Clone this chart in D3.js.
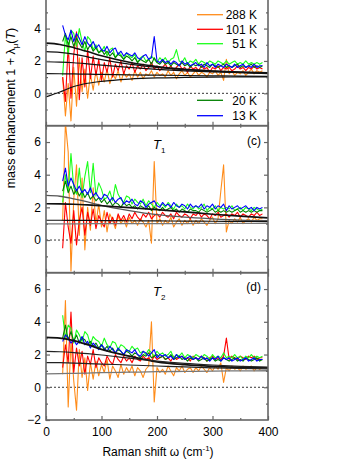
<!DOCTYPE html>
<html lang="en">
<head>
<meta charset="UTF-8">
<title>mass enhancement</title>
<style>
body{margin:0;background:#fff;}
svg text{font-family:"Liberation Sans",Arial,sans-serif;}
</style>
</head>
<body>
<div class="chart"></div>
<script src="https://d3js.org/d3.v7.min.js"></script>
<script>
// Raman shift grid of the spectra (cm-1)
var omega = [30,35,40,45,50,55,60,65,70,75,80,85,90,95,100,105,110,115,120,125,130,135,140,145,
  150,155,160,165,170,175,180,185,190,195,200,205,210,215,220,225,230,235,240,245,250,255,260,265,
  270,275,280,285,290,295,300,305,310,315,320,325,330,335,340,345,350,355,360,365,370,375,380,385,390];

var temps = ['288 K','101 K','51 K','20 K','13 K'];
var colors = ['#ff8c1a','#ff0000','#1aff1a','#008000','#0000ff'];

// top panel
var b288 = [1.0,-1.4,0.6,-1.7,1.6,-0.8,2.2,0.1,1.5,-0.3,1.2,0.2, 1.4,0.5,1.3,0.7,1.5,0.6,1.2,0.9,1.4,0.7,1.3,1.0,
  1.2,0.8,1.4,1.0,1.3,0.9,1.2,1.1,1.4,1.0,1.3,1.1, 1.2,1.0,1.4,1.1,1.3,0.9,1.2,1.4,1.1,1.3,1.0,1.2,
  1.4,1.1,1.3,1.2,1.0,1.3,1.2,1.4,1.1,1.3,0.8,2.1, 1.2,1.4,1.1,1.3,1.2,1.4,1.1,1.3,1.5,1.2,1.4,1.3, 1.4];
var b101 = [1.0,-0.5,3.0,-0.3,2.4,3.8,-0.4,2.2,0.4,2.7,0.9,2.3, 1.1,2.1,0.8,1.9,1.3,2.2,1.0,1.8,1.4,2.0,1.2,1.7,
  1.5,1.9,1.3,1.7,1.5,1.8,1.4,1.6,1.9,1.5,1.7,1.4, 1.6,1.8,1.5,1.7,1.4,1.6,1.8,1.5,1.6,1.3,1.7,1.5,
  1.6,1.4,1.7,1.5,1.6,1.3,1.6,1.5,1.7,1.4,1.6,1.5, 1.6,1.4,1.5,1.7,1.5,1.6,1.4,1.6,1.5,1.7,1.5,1.6, 1.5];
var b51 = [1.1,3.6,2.4,3.9,3.7,2.9,4.0,3.2,2.6,3.5,3.3,2.7, 3.0,2.5,2.6,2.9,2.3,2.7,2.8,2.2,2.5,2.4,2.1,2.5,
  2.3,2.2,2.4,1.9,2.2,2.3,2.0,2.1,2.3,2.1,1.9,2.2, 2.0,2.2,1.9,2.1,2.2,2.7,2.0,1.9,2.2,1.8,2.0,1.9,
  2.1,1.8,2.0,1.9,1.8,2.0,1.9,1.8,2.0,1.9,1.8,2.0, 1.8,1.9,2.0,1.8,1.9,1.8,2.0,1.8,1.9,1.8,1.9,1.8, 1.9];
var b20 = [3.2,3.7,3.0,3.5,2.9,3.4,3.1,2.8,3.2,2.7,3.0,2.6, 2.8,2.5,2.7,2.4,2.6,2.3,2.5,2.2,2.4,2.3,2.1,2.3,
  2.2,2.0,2.2,1.9,2.1,2.0,1.9,2.1,1.8,2.2,1.9,1.8, 2.0,1.8,1.9,1.7,1.9,1.8,1.7,1.9,1.7,1.8,1.6,1.8,
  1.7,1.8,1.6,1.8,1.7,1.6,1.8,1.7,1.6,1.7,1.8,1.6, 1.7,1.6,1.7,1.8,1.6,1.7,1.6,1.7,1.8,1.6,1.7,1.6, 1.7];
var b13 = [4.2,3.6,3.3,3.9,3.2,3.7,3.4,3.0,3.5,3.1,2.9,3.2, 2.8,3.0,2.7,2.6,2.9,2.5,2.7,2.8,2.4,2.6,2.3,2.5,
  2.4,2.3,2.5,2.2,2.1,2.3,2.4,2.1,2.2,3.5,2.0,1.9, 2.1,1.9,2.0,1.8,2.0,1.9,1.7,2.0,1.8,1.9,1.7,1.8,
  1.9,1.7,1.8,1.6,1.9,1.7,1.8,1.6,1.8,1.7,1.6,1.8, 1.7,1.6,1.8,1.6,1.7,1.8,1.6,1.7,1.6,1.8,1.6,1.7, 1.7];

// panel (c), T1
var c288 = [1.2,7.2,5.4,-1.9,2.5,4.6,0.3,3.8,-0.6,2.0,0.6,3.2, 1.0,2.2,0.8,1.8,0.5,1.6,1.2,0.7,1.5,1.0,1.3,0.8,
  1.4,1.0,1.2,0.9,1.3,1.1,0.8,1.2,-0.2,4.8,1.0,1.3, 0.9,1.2,1.0,1.4,0.8,1.1,1.3,0.9,1.2,1.0,1.3,0.9,
  1.2,1.0,1.3,1.1,0.9,1.2,1.4,1.0,1.3,3.0,4.6,0.5, 1.2,1.0,1.3,1.1,1.4,1.0,1.2,1.3,1.1,1.4,1.2,1.3, 1.3];
var c101 = [-0.5,2.3,0.8,-0.2,1.8,-0.3,1.2,2.0,0.3,1.7,0.9,1.9, 0.7,1.5,1.1,0.8,1.7,1.0,1.4,0.9,1.6,1.2,1.5,1.1,
  1.6,1.3,1.7,1.4,1.2,1.6,1.4,1.7,1.3,1.5,1.6,1.4, 1.7,1.5,1.4,1.6,1.3,1.7,1.5,1.4,1.6,1.5,1.3,1.6,
  1.5,1.7,1.4,1.6,1.5,1.3,1.6,1.5,1.7,1.4,1.5,1.6, 1.4,1.6,1.5,1.7,1.4,1.6,1.5,1.4,1.6,1.5,1.7,1.5, 1.6];
var c51 = [2.3,4.0,3.0,5.3,3.2,2.8,4.4,2.6,3.9,4.8,2.9,4.7, 2.7,3.5,3.1,2.5,2.6,3.0,2.4,3.4,2.8,2.5,2.3,2.7,
  2.6,2.2,2.5,2.3,2.2,2.5,2.1,2.4,2.2,2.0,2.3,2.1, 2.2,2.0,2.3,2.1,1.9,2.2,2.0,2.1,1.9,2.2,2.0,1.9,
  2.1,1.9,2.0,2.2,1.8,2.0,1.9,2.1,1.8,2.0,1.9,2.0, 1.9,2.1,1.8,1.9,2.0,1.8,2.0,1.9,1.8,2.0,1.9,1.8, 1.9];
var c20 = [3.0,3.6,2.9,3.3,2.8,3.1,2.7,3.0,2.6,2.9,2.5,2.7, 2.4,2.6,2.3,2.5,2.2,2.4,2.1,2.3,2.2,2.0,2.3,2.1,
  2.2,2.0,2.1,1.9,2.1,2.0,1.9,2.1,1.8,2.0,1.9,1.8, 2.0,1.8,1.9,2.0,1.8,1.9,1.7,1.9,1.8,1.7,1.9,1.8,
  1.8,1.7,1.9,1.8,1.7,1.8,1.9,1.7,1.8,1.7,1.8,1.7, 1.8,1.7,1.8,1.9,1.7,1.8,1.7,1.8,1.7,1.8,1.7,1.8, 1.8];
var c13 = [3.6,4.4,3.3,3.8,3.4,3.0,3.3,2.9,3.1,2.8,3.2,2.7, 2.9,2.6,2.5,2.8,2.7,2.4,2.6,2.3,2.5,2.6,2.2,2.4,
  2.3,2.5,2.2,2.1,2.4,2.3,2.0,2.2,2.3,2.4,2.1,2.0, 2.3,2.1,2.2,2.0,2.3,2.1,2.0,2.2,2.1,1.9,2.2,2.0,
  2.1,2.0,2.2,1.9,2.1,2.0,2.2,1.9,2.1,2.0,2.2,1.8, 2.1,1.9,2.0,2.1,1.9,2.0,2.1,1.9,2.0,1.8,2.0,1.9, 2.0];

// panel (d), T2
var d288 = [0.8,5.3,-1.2,2.8,0.4,-1.4,2.3,0.6,1.8,-0.2,1.5,0.5, 1.6,0.7,1.4,0.9,1.7,0.5,1.3,1.0,0.6,1.4,0.8,1.2,
  0.9,1.3,0.7,1.2,1.0,0.6,1.1,1.3,4.0,-0.9,1.2,0.9, 1.1,0.8,1.3,1.0,0.7,1.2,1.0,1.3,0.9,1.1,1.2,0.9,
  1.2,1.0,1.3,1.1,0.9,1.2,1.0,1.3,1.1,1.5,0.3,1.2, 1.0,1.3,1.1,1.2,1.0,1.3,1.1,1.2,1.3,1.0,1.2,1.1, 1.2];
var d101 = [1.2,2.6,1.5,4.6,0.9,2.4,1.3,2.2,0.8,1.9,1.4,2.3, 1.2,1.8,1.5,1.3,1.9,1.6,1.4,2.0,1.7,1.5,1.9,1.6,
  1.8,1.5,1.9,1.7,1.6,1.9,1.7,1.8,1.6,1.9,1.7,1.8, 1.9,1.7,1.8,1.6,1.9,1.7,1.8,1.9,1.7,1.8,1.6,1.9,
  1.8,1.7,1.9,1.8,1.6,1.8,1.9,1.7,1.8,1.7,1.9,3.0, 1.7,1.9,1.8,1.7,1.9,1.8,1.7,1.9,1.8,1.9,1.7,1.8, 1.8];
var d51 = [4.4,3.0,3.8,3.6,2.7,3.5,3.2,2.8,3.4,3.2,2.6,3.1, 2.9,2.8,2.5,3.0,2.6,2.4,2.8,2.7,2.3,2.6,2.5,2.3,
  2.2,2.5,2.3,2.4,2.1,2.2,2.0,2.3,2.1,1.9,2.2,2.0, 2.1,1.9,2.0,2.2,1.8,2.0,1.9,2.1,1.8,2.0,1.9,1.8,
  2.0,1.9,1.8,2.0,1.9,1.7,2.0,1.8,1.9,1.8,2.1,1.8, 1.9,1.8,2.0,1.8,1.9,1.7,1.9,1.8,2.0,1.8,1.9,1.8, 1.9];
var d20 = [3.0,3.8,2.9,3.4,2.8,3.2,2.7,3.0,2.9,2.6,2.8,2.5, 2.7,2.4,2.6,2.3,2.5,2.2,2.4,2.1,2.3,2.2,2.0,2.2,
  2.1,1.9,2.1,2.0,1.8,2.0,1.9,2.1,1.8,1.9,2.0,1.8, 1.9,1.7,1.8,2.0,1.7,1.8,1.9,1.7,1.8,1.6,1.8,1.7,
  1.8,1.6,1.7,1.8,1.6,1.7,1.8,1.6,1.7,1.6,1.8,1.7, 1.6,1.7,1.8,1.6,1.7,1.6,1.8,1.7,1.6,1.7,1.8,1.6, 1.7];
var d13 = [2.8,3.2,3.0,2.7,2.9,2.6,2.8,3.1,2.6,2.8,2.4,2.7, 2.5,2.3,2.6,2.4,2.2,2.5,2.3,2.1,2.4,2.2,2.0,2.3,
  2.2,2.1,2.3,2.0,1.9,2.2,2.1,1.9,2.1,2.3,1.8,2.0, 1.9,2.0,1.8,1.9,1.7,2.0,1.8,1.9,1.7,1.8,1.9,1.7,
  1.8,1.7,1.9,1.7,1.8,1.6,1.8,1.7,1.9,1.6,1.8,1.7, 1.8,1.6,1.7,1.8,1.6,1.7,1.8,1.6,1.7,1.8,1.6,1.7, 1.7];

// model curves
var fitOmega = [0,25,50,75,100,150,200,250,300,350,400];
var fitB1 = [3.10,3.02,2.82,2.58,2.32,1.92,1.65,1.48,1.38,1.31,1.26];
var fitB2 = [2.57,2.53,2.42,2.25,2.08,1.80,1.60,1.46,1.37,1.30,1.25];
var fitB3 = [1.95,1.93,1.89,1.82,1.74,1.60,1.48,1.39,1.32,1.27,1.22];
var fitB4 = [1.22,1.21,1.20,1.18,1.17,1.14,1.12,1.10,1.08,1.06,1.05];
var fitB5 = [-0.22,0.08,0.42,0.62,0.74,0.88,0.95,0.98,1.00,1.01,1.02];
var fitC1 = [2.73,2.68,2.52,2.33,2.12,1.80,1.55,1.40,1.30,1.22,1.18];
var fitC2 = [2.22,2.21,2.19,2.15,2.10,1.99,1.86,1.72,1.58,1.46,1.36];
var fitC3 = [1.21,1.21,1.20,1.20,1.19,1.18,1.17,1.16,1.15,1.14,1.13];
var fitC4 = [0.99,0.99,0.99,1.00,1.00,1.00,1.01,1.01,1.02,1.02,1.02];
var fitD1 = [3.05,3.00,2.85,2.60,2.32,1.90,1.55,1.38,1.28,1.22,1.18];
var fitD2 = [2.19,2.17,2.12,2.05,1.97,1.78,1.60,1.46,1.36,1.28,1.23];
var fitD3 = [1.51,1.50,1.48,1.45,1.42,1.36,1.30,1.24,1.19,1.15,1.12];
var fitD4 = [0.82,0.83,0.85,0.87,0.89,0.92,0.95,0.97,0.99,1.00,1.01];

var yMajor = [0,2,4,6];
var yMinor = [-1,1,3,5];
var xMajor = [0,100,200,300,400];
var xMinor = [50,150,250,350];

var W = 357, H = 462;
var svg = d3.select('.chart').append('svg')
  .attr('width', W).attr('height', H);

var x = d3.scaleLinear().domain([0,400]).range([46,268]);

var panels = [
  {name:'b', top:-20, bottom:125.7, series:[b288,b101,b51,b20,b13],
   fits:[fitB1,fitB2,fitB3,fitB4,fitB5], fitColor:['#111','#111','#111','#111','#111'], fitWidth:[1.6,1.2,1.2,1.2,1.2]},
  {name:'c', top:125.7, bottom:272.7, series:[c288,c101,c51,c20,c13],
   fits:[fitC1,fitC2,fitC3,fitC4], fitColor:['#555','#111','#111','#777'], fitWidth:[1.3,1.7,1.2,1.3]},
  {name:'d', top:272.7, bottom:420, series:[d288,d101,d51,d20,d13],
   fits:[fitD1,fitD2,fitD3,fitD4], fitColor:['#111','#222','#222','#777'], fitWidth:[1.8,1.2,1.2,1.3]}
];

var axisColor = '#666';

function styleAxis(g){
  g.select('.domain').remove();
  g.selectAll('.tick line').attr('stroke', axisColor).attr('stroke-width', 1.2);
  g.selectAll('.tick text').attr('fill','#000').style('font-size','12px')
    .style('font-family','"Liberation Sans", Arial, sans-serif');
}

panels.forEach(function(p, pi){
  var y = d3.scaleLinear().domain([-2,7]).range([p.bottom, p.top]);
  var g = svg.append('g');

  g.append('clipPath').attr('id','clip'+p.name)
    .append('rect').attr('x',x(0)).attr('y',p.top).attr('width',x(400)-x(0)).attr('height',p.bottom-p.top);

  var plot = g.append('g').attr('clip-path','url(#clip'+p.name+')');

  // zero line
  plot.append('line')
    .attr('x1',x(0)).attr('x2',x(400)).attr('y1',y(0)).attr('y2',y(0))
    .attr('stroke','#000').attr('stroke-width',0.8).attr('stroke-dasharray','2,2');

  var line = d3.line()
    .x(function(d,i){ return x(omega[i]); })
    .y(function(d){ return y(d); });

  p.series.forEach(function(s, si){
    plot.append('path').datum(s)
      .attr('d', line)
      .attr('fill','none')
      .attr('stroke', colors[si])
      .attr('stroke-width', 1.1)
      .attr('stroke-linejoin','round');
  });

  var fitLine = d3.line()
    .x(function(d,i){ return x(fitOmega[i]); })
    .y(function(d){ return y(d); })
    .curve(d3.curveMonotoneX);

  p.fits.forEach(function(f, fi){
    plot.append('path').datum(f)
      .attr('d', fitLine)
      .attr('fill','none')
      .attr('stroke', p.fitColor[fi])
      .attr('stroke-width', p.fitWidth[fi]);
  });

  // axes with inward ticks
  var yLeft = g.append('g').attr('transform','translate('+x(0)+',0)')
    .call(d3.axisLeft(y).tickValues(pi===2 ? [-2].concat(yMajor) : yMajor).tickSize(-4).tickPadding(5));
  styleAxis(yLeft);
  if (pi===0) yLeft.selectAll('.tick').filter(function(d){ return d===6; }).select('text').remove();
  var yLeftMinor = g.append('g').attr('transform','translate('+x(0)+',0)')
    .call(d3.axisLeft(y).tickValues(yMinor).tickSize(-2).tickFormat(''));
  styleAxis(yLeftMinor);
  var yRight = g.append('g').attr('transform','translate('+x(400)+',0)')
    .call(d3.axisRight(y).tickValues(yMajor).tickSize(-4).tickFormat(''));
  styleAxis(yRight);
  var yRightMinor = g.append('g').attr('transform','translate('+x(400)+',0)')
    .call(d3.axisRight(y).tickValues(yMinor).tickSize(-2).tickFormat(''));
  styleAxis(yRightMinor);

  var xb = g.append('g').attr('transform','translate(0,'+p.bottom+')')
    .call(d3.axisBottom(x).tickValues(xMajor).tickSize(-4).tickPadding(7)
      .tickFormat(pi===2 ? d3.format('d') : ''));
  styleAxis(xb);
  var xbm = g.append('g').attr('transform','translate(0,'+p.bottom+')')
    .call(d3.axisBottom(x).tickValues(xMinor).tickSize(-2).tickFormat(''));
  styleAxis(xbm);
  var xt = g.append('g').attr('transform','translate(0,'+p.top+')')
    .call(d3.axisTop(x).tickValues(xMajor).tickSize(-4).tickFormat(''));
  styleAxis(xt);
  var xtm = g.append('g').attr('transform','translate(0,'+p.top+')')
    .call(d3.axisTop(x).tickValues(xMinor).tickSize(-2).tickFormat(''));
  styleAxis(xtm);

  // frame
  g.append('rect')
    .attr('x',x(0)).attr('y',p.top).attr('width',x(400)-x(0)).attr('height',p.bottom-p.top)
    .attr('fill','none').attr('stroke',axisColor).attr('stroke-width',1.6);
});

// legend in top panel
var legendY = [14.7, 29.3, 43.7, 100.3, 115.7];
temps.forEach(function(t, i){
  svg.append('line')
    .attr('x1',197).attr('x2',223).attr('y1',legendY[i]).attr('y2',legendY[i])
    .attr('stroke',colors[i]).attr('stroke-width',1.3);
  svg.append('text')
    .attr('x',257).attr('y',legendY[i]+4.3)
    .attr('text-anchor','end').style('font-size','12px')
    .text(t);
});

// panel labels
svg.append('text').attr('x',261).attr('y',144.5).attr('text-anchor','end').style('font-size','12px').text('(c)');
svg.append('text').attr('x',261).attr('y',290.5).attr('text-anchor','end').style('font-size','12px').text('(d)');

[['1',149],['2',296]].forEach(function(t){
  var tx = svg.append('text').attr('x',153).attr('y',t[1]).style('font-size','13px');
  tx.append('tspan').style('font-style','italic').text('T');
  tx.append('tspan').attr('dy',3.5).style('font-size','8px').text(t[0]);
});

// axis titles
var xl = svg.append('text').attr('x',158).attr('y',456).attr('text-anchor','middle').style('font-size','12px');
xl.append('tspan').text('Raman shift \u03c9 (cm');
xl.append('tspan').attr('dy',-5).style('font-size','8px').text('-1');
xl.append('tspan').attr('dy',5).text(')');

var yl = svg.append('text')
  .attr('transform','translate(15,108) rotate(-90)')
  .attr('text-anchor','middle').style('font-size','12.5px');
yl.append('tspan').text('mass enhancement 1 + \u03bb');
yl.append('tspan').attr('dy',3).style('font-size','8px').text('\u03bc');
yl.append('tspan').attr('dy',-3).text('(');
yl.append('tspan').style('font-style','italic').text('T');
yl.append('tspan').text(')');
</script>
</body>
</html>
